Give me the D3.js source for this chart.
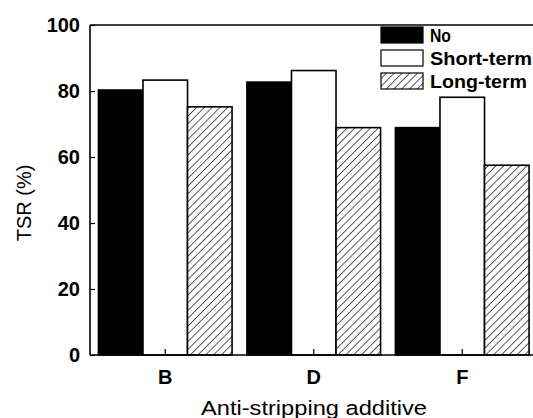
<!DOCTYPE html>
<html><head><meta charset="utf-8">
<script src="https://cdn.jsdelivr.net/npm/d3@7"></script>
<style>body{margin:0;background:#fff}svg{display:block}text{font-family:"Liberation Sans",Arial,sans-serif;fill:#000}</style>
</head><body>
<script>
const categories = ["B", "D", "F"];
const seriesNames = ["No", "Short-term", "Long-term"];
const noValues = [80.3, 82.7, 68.9];
const shortTermValues = [83.3, 86.2, 78.1];
const longTermValues = [75.2, 68.9, 57.5];
const yTicks = [0, 20, 40, 60, 80, 100];

(function () {
const W = 533, H = 418;
const svg = d3.select("body").append("svg").attr("width", W).attr("height", H);
const defs = svg.append("defs");
const pat = defs.append("pattern").attr("id", "hatch").attr("patternUnits", "userSpaceOnUse")
  .attr("width", 5.5).attr("height", 5.5).attr("patternTransform", "rotate(45)");
pat.append("rect").attr("width", 5.5).attr("height", 5.5).attr("fill", "#fff");
pat.append("line").attr("x1", 0).attr("y1", 0).attr("x2", 0).attr("y2", 5.5)
  .attr("stroke", "#000").attr("stroke-width", 1.3);

const pL = 90, pR = 537, pT = 25, pB = 355;
const x0 = d3.scaleBand().domain(categories).range([pL + 1, pR - 0.5]).paddingInner(0.1).paddingOuter(0.05);
const x1 = d3.scaleBand().domain(seriesNames).range([0, x0.bandwidth()]);
const y = d3.scaleLinear().domain([0, 100]).range([pB, pT]);
const fills = {"No": "#000", "Short-term": "#fff", "Long-term": "url(#hatch)"};
const values = {"No": noValues, "Short-term": shortTermValues, "Long-term": longTermValues};

const data = [];
categories.forEach((c, i) => seriesNames.forEach(s => data.push({c, s, v: values[s][i]})));

svg.append("g").selectAll("rect").data(data).join("rect")
  .attr("x", d => x0(d.c) + x1(d.s))
  .attr("y", d => y(d.v))
  .attr("width", x1.bandwidth())
  .attr("height", d => y(0) - y(d.v))
  .attr("fill", d => fills[d.s])
  .attr("stroke", "#000").attr("stroke-width", 1.6);

svg.append("line").attr("x1", pL).attr("x2", pR).attr("y1", pT).attr("y2", pT)
  .attr("stroke", "#000").attr("stroke-width", 1.6);

const yAxis = d3.axisRight(y).tickValues(yTicks).tickSize(5).tickFormat("");
const gy = svg.append("g").attr("transform", `translate(${pL},0)`).call(yAxis);
gy.select(".domain").attr("d", `M0,${pT}V${pB}`).attr("stroke-width", 1.6);
gy.selectAll(".tick line").attr("stroke-width", 1.2);
svg.append("g").selectAll("text").data(yTicks).join("text")
  .attr("x", pL - 10).attr("y", d => y(d)).attr("dy", "0.36em")
  .attr("text-anchor", "end").attr("font-size", 20).attr("font-weight", "bold").text(d => d);

const xAxis = d3.axisTop(x0).tickSize(6).tickFormat("");
const gx = svg.append("g").attr("transform", `translate(0,${pB})`).call(xAxis);
gx.select(".domain").attr("d", `M${pL},0H${pR}`).attr("stroke-width", 1.6);
gx.selectAll(".tick line").attr("stroke-width", 1.2);
svg.append("g").selectAll("text").data(categories).join("text")
  .attr("x", d => x0(d) + x0.bandwidth() / 2).attr("y", 384)
  .attr("text-anchor", "middle").attr("font-size", 20).attr("font-weight", "bold").text(d => d);

svg.append("text").attr("x", 314).attr("y", 415).attr("text-anchor", "middle")
  .attr("font-size", 20).attr("textLength", 226).attr("lengthAdjust", "spacingAndGlyphs")
  .text("Anti-stripping additive");
svg.append("text").attr("transform", "translate(31,203) rotate(-90)").attr("text-anchor", "middle")
  .attr("font-size", 20).text("TSR (%)");

const lg = svg.append("g");
const legendLens = {"No": 21, "Short-term": 102, "Long-term": 97};
seriesNames.forEach((s, i) => {
  const yy = 27 + i * 23;
  lg.append("rect").attr("x", 381).attr("y", yy).attr("width", 42).attr("height", 16)
    .attr("fill", fills[s]).attr("stroke", "#000").attr("stroke-width", 1.2);
  lg.append("text").attr("x", 430).attr("y", yy + 14.5).attr("font-size", 18).attr("font-weight", "bold")
    .attr("textLength", legendLens[s]).attr("lengthAdjust", "spacingAndGlyphs").text(s);
});
})();
</script>
</body></html>
